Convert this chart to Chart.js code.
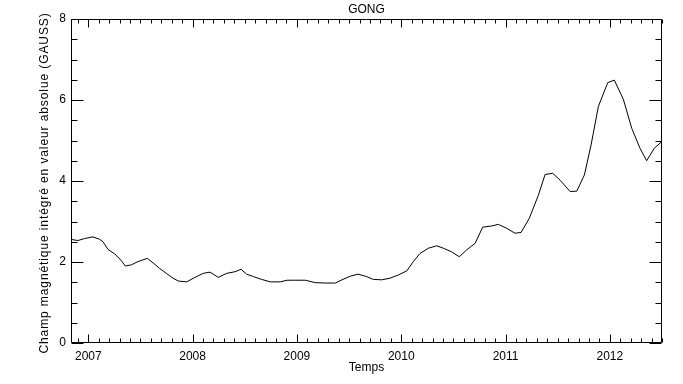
<!DOCTYPE html>
<html>
<head>
<meta charset="utf-8">
<script src="https://cdn.jsdelivr.net/npm/chart.js@4.4.0/dist/chart.umd.min.js"></script>
<style>
  html, body { margin: 0; padding: 0; background: #fff; }
</style>
</head>
<body>
<canvas id="gongChart" width="683" height="384"></canvas>
<script>
// time in decimal years
const years = [
    2006.83, 2006.90, 2006.965, 2007.045, 2007.109, 2007.141, 2007.189, 2007.253, 2007.311, 2007.355,
    2007.412, 2007.476, 2007.566, 2007.620, 2007.684, 2007.748, 2007.812, 2007.863, 2007.943, 2008.023,
    2008.102, 2008.167, 2008.246, 2008.327, 2008.406, 2008.464, 2008.518, 2008.582, 2008.662, 2008.745,
    2008.841, 2008.905, 2008.985, 2009.080, 2009.176, 2009.272, 2009.368, 2009.432, 2009.512, 2009.586,
    2009.656, 2009.733, 2009.813, 2009.893, 2009.972, 2010.053, 2010.116, 2010.180, 2010.260, 2010.340,
    2010.404, 2010.484, 2010.557, 2010.628, 2010.708, 2010.781, 2010.868, 2010.931, 2011.012, 2011.091,
    2011.149, 2011.228, 2011.315, 2011.379, 2011.453, 2011.523, 2011.619, 2011.683, 2011.756, 2011.820,
    2011.890, 2011.980, 2012.043, 2012.129, 2012.210, 2012.289, 2012.353, 2012.426, 2012.497
];
const fieldValues = [
    2.56, 2.53, 2.58, 2.62, 2.56, 2.50, 2.31, 2.20, 2.05, 1.90,
    1.93, 2.01, 2.09, 1.98, 1.84, 1.72, 1.60, 1.53, 1.51, 1.62,
    1.72, 1.75, 1.62, 1.72, 1.76, 1.82, 1.70, 1.64, 1.57, 1.51,
    1.51, 1.55, 1.55, 1.55, 1.49, 1.48, 1.48, 1.56, 1.65, 1.70,
    1.65, 1.57, 1.56, 1.60, 1.68, 1.78, 2.01, 2.21, 2.34, 2.40,
    2.34, 2.25, 2.13, 2.30, 2.46, 2.86, 2.89, 2.93, 2.83, 2.71,
    2.73, 3.08, 3.65, 4.16, 4.19, 4.02, 3.74, 3.75, 4.15, 4.89,
    5.84, 6.43, 6.49, 6.02, 5.30, 4.81, 4.50, 4.81, 4.97
];
const xTickYears = [2007, 2008, 2009, 2010, 2011, 2012];
const yTickValues = [0, 2, 4, 6, 8];
const xRange = [2006.834, 2012.5];
const yRange = [0, 8];
const yTitle = 'Champ magnétique intégré en valeur absolue (GAUSS)';

const FONT = "'Liberation Sans', Arial, sans-serif";

// IDL-style box: inward ticks on all four sides, minor ticks too,
// plus the spaced-out vertical axis title
const frameTicks = {
    id: 'frameTicks',
    afterDraw(chart) {
        const ctx = chart.ctx;
        const a = chart.chartArea;
        const xs = chart.scales.x, ys = chart.scales.y;
        const L = a.left + 0.5, R = a.right - 0.5, T = a.top + 0.5, B = a.bottom - 0.5;
        ctx.save();
        ctx.strokeStyle = '#000';
        ctx.lineWidth = 1;
        ctx.beginPath();
        ctx.moveTo(L, T); ctx.lineTo(R, T); ctx.lineTo(R, B); ctx.lineTo(L, B); ctx.closePath();

        for (let k = Math.ceil(xRange[0] * 10); k <= Math.floor(xRange[1] * 10); k++) {
            const v = k / 10;
            const len = xTickYears.includes(v) ? 8 : 4;
            const px = Math.round(xs.getPixelForValue(v)) + 0.5;
            ctx.moveTo(px, B); ctx.lineTo(px, B - len);
            ctx.moveTo(px, T); ctx.lineTo(px, T + len);
        }
        for (let k = 0; k <= yRange[1] * 2; k++) {
            const v = k / 2;
            const len = yTickValues.includes(v) ? 12 : 6;
            const py = Math.round(ys.getPixelForValue(v)) + 0.5;
            ctx.moveTo(L, py); ctx.lineTo(L + len, py);
            ctx.moveTo(R, py); ctx.lineTo(R - len, py);
        }
        ctx.stroke();

        ctx.translate(45, (a.top + a.bottom) / 2 + 2);
        ctx.rotate(-Math.PI / 2);
        ctx.fillStyle = '#000';
        ctx.font = '12px ' + FONT;
        ctx.letterSpacing = '0.9px';
        ctx.textAlign = 'center';
        ctx.textBaseline = 'middle';
        ctx.fillText(yTitle, 0, 0);
        ctx.restore();
    }
};

const ctx = document.getElementById('gongChart').getContext('2d');
new Chart(ctx, {
    type: 'scatter',
    data: {
        datasets: [{
            data: years.map((t, i) => ({ x: t, y: fieldValues[i] })),
            showLine: true,
            borderColor: '#000',
            borderWidth: 1,
            pointRadius: 0,
            tension: 0
        }]
    },
    options: {
        responsive: false,
        animation: false,
        events: [],
        layout: { padding: { left: 0, right: 21, top: 0, bottom: 0 } },
        plugins: {
            legend: { display: false },
            tooltip: { enabled: false },
            title: {
                display: true,
                text: 'GONG',
                fullSize: false,
                color: '#000',
                font: { family: FONT, size: 12, weight: 'normal', lineHeight: '14px' },
                padding: { top: 3, bottom: 2 }
            }
        },
        scales: {
            x: {
                type: 'linear',
                min: xRange[0],
                max: xRange[1],
                grid: { display: false, drawTicks: false },
                border: { display: false },
                afterBuildTicks: (scale) => { scale.ticks = xTickYears.map(v => ({ value: v })); },
                afterFit: (scale) => { scale.height = 41; },
                ticks: {
                    color: '#000',
                    padding: 6,
                    maxRotation: 0,
                    autoSkip: false,
                    font: { family: FONT, size: 12 },
                    callback: (v) => String(v)
                },
                title: {
                    display: true,
                    text: 'Temps',
                    color: '#000',
                    font: { family: FONT, size: 12 },
                    padding: { top: 0, bottom: 9 }
                }
            },
            y: {
                min: yRange[0],
                max: yRange[1],
                grid: { display: false, drawTicks: false },
                border: { display: false },
                afterBuildTicks: (scale) => { scale.ticks = yTickValues.map(v => ({ value: v })); },
                afterFit: (scale) => { scale.width = 71; },
                ticks: {
                    color: '#000',
                    padding: 5,
                    font: { family: FONT, size: 12 },
                    callback: (v) => String(v)
                },
                title: { display: false }
            }
        }
    },
    plugins: [frameTicks]
});
</script>
</body>
</html>
